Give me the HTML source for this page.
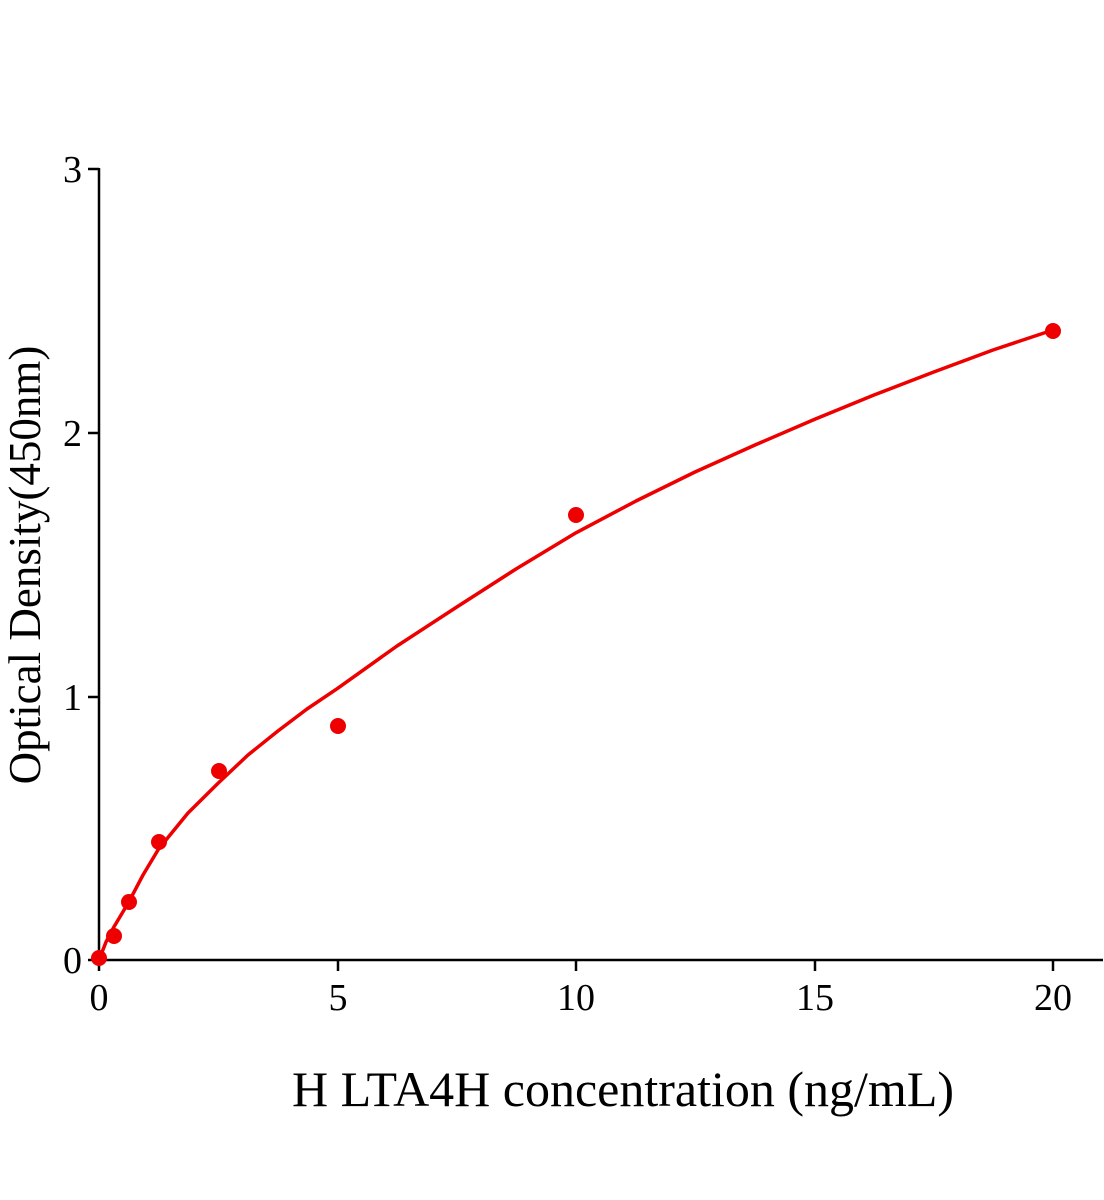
<!DOCTYPE html>
<html><head><meta charset="utf-8"><style>
html,body{margin:0;padding:0;background:#fff;}
svg{display:block;}
text{font-family:"Liberation Serif",serif;fill:#000;}
</style></head><body>
<svg width="1104" height="1200" viewBox="0 0 1104 1200" xmlns="http://www.w3.org/2000/svg">
<g stroke="#000" stroke-width="2.5" fill="none">
<line x1="99" y1="168" x2="99" y2="961"/>
<line x1="98" y1="960" x2="1103" y2="960"/>
<line x1="88" y1="169" x2="99" y2="169"/>
<line x1="88" y1="433" x2="99" y2="433"/>
<line x1="88" y1="697" x2="99" y2="697"/>
<line x1="88" y1="960" x2="99" y2="960"/>
<line x1="99" y1="960" x2="99" y2="971"/>
<line x1="338" y1="960" x2="338" y2="971"/>
<line x1="576" y1="960" x2="576" y2="971"/>
<line x1="815" y1="960" x2="815" y2="971"/>
<line x1="1053" y1="960" x2="1053" y2="971"/>
</g>
<g font-size="38" text-anchor="end">
<text x="82" y="182">3</text>
<text x="82" y="446">2</text>
<text x="82" y="710">1</text>
<text x="82" y="973">0</text>
</g>
<g font-size="38" text-anchor="middle">
<text x="99" y="1010">0</text>
<text x="338" y="1010">5</text>
<text x="576" y="1010">10</text>
<text x="815" y="1010">15</text>
<text x="1053" y="1010">20</text>
</g>
<text x="623" y="1106" font-size="50" text-anchor="middle">H LTA4H concentration (ng/mL)</text>
<text transform="translate(40,565) rotate(-90)" font-size="45" text-anchor="middle">Optical Density(450nm)</text>
<polyline fill="none" stroke="#ee0000" stroke-width="3.5" stroke-linejoin="round" stroke-linecap="round"
points="99,960 106,942 113.3,928 128.8,902 143,875 158.6,849 188,813 218.3,783 248,755 277.9,731 307,709 337.5,688.4 397,646 456.8,607 516,569 576,532.8 636,501 695,472 755,445 814.5,419.4 874,395 933.8,372 993,350 1053,330"/>
<g fill="#ee0000">
<circle cx="99" cy="958" r="8"/>
<circle cx="114" cy="936" r="8"/>
<circle cx="129" cy="902" r="8"/>
<circle cx="159" cy="842" r="8"/>
<circle cx="219" cy="771" r="8"/>
<circle cx="338" cy="726" r="8"/>
<circle cx="576" cy="515" r="8"/>
<circle cx="1053" cy="331" r="8"/>
</g>
</svg>
</body></html>
